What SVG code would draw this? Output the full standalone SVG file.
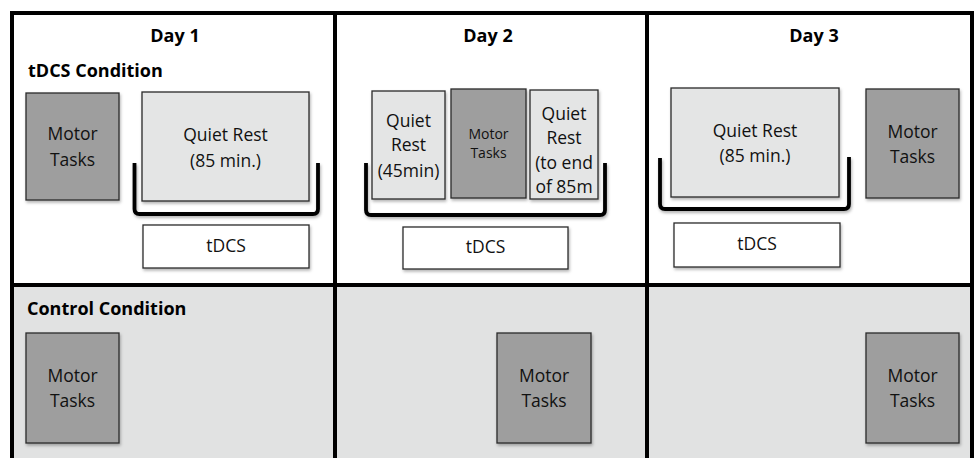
<svg xmlns="http://www.w3.org/2000/svg" width="975" height="458" viewBox="0 0 975 458">
<defs>
<filter id="sh" x="-10%" y="-10%" width="130%" height="130%">
<feDropShadow dx="1" dy="2" stdDeviation="1.5" flood-color="#000" flood-opacity="0.3"/>
</filter>
<style>
.frame{fill:none;stroke:#000;stroke-width:4}
.dark{fill:#9e9e9e;stroke:#2a2a2a;stroke-width:1.3;filter:url(#sh)}
.light{fill:#e4e5e5;stroke:#2a2a2a;stroke-width:1.3;filter:url(#sh)}
.white{fill:#fff;stroke:#2a2a2a;stroke-width:1.3;filter:url(#sh)}
.brk{fill:none;stroke:#000;stroke-width:3.8;stroke-linecap:butt;filter:url(#sh)}
text{font-family:"Open Sans","Liberation Sans",sans-serif;fill:#111;text-anchor:middle}
.t{font-size:17.5px}
.s{font-size:14px}
.h{font-size:18px;font-weight:bold;fill:#000}
.hl{font-size:18px;font-weight:bold;fill:#000;text-anchor:start}
</style>
</defs>
<g id="background">
<rect x="12" y="12" width="960" height="273" fill="#fff"/>
<rect x="12" y="285" width="960" height="173" fill="#e1e2e2"/>
</g>
<g id="grid">
<path class="frame" d="M12,458 V13 H972 V458"/>
<path class="frame" d="M335,12 V458 M647,12 V458 M12,285 H972"/>
</g>
<g id="labels">
<text class="h" x="175" y="42">Day 1</text>
<text class="h" x="488" y="42">Day 2</text>
<text class="h" x="814" y="42">Day 3</text>
<text class="hl" x="28" y="77">tDCS Condition</text>
<text class="hl" x="27" y="315">Control Condition</text>
</g>
<g id="connectors">
<path class="brk" d="M134.5,163 V209 Q134.5,214 139.5,214 H313 Q318,214 318,209 V163"/>
<path class="brk" d="M366,163 V210 Q366,215 371,215 H600 Q605,215 605,210 V163"/>
<path class="brk" d="M660,158 V204 Q660,209 665,209 H844 Q849,209 849,204 V157"/>
</g>
<g id="d1-motor">
<rect class="dark" x="26" y="93" width="93" height="107"/>
<text class="t" x="72.5" y="140">Motor</text>
<text class="t" x="72.5" y="166">Tasks</text>
</g>
<g id="d1-rest">
<rect class="light" x="142" y="92" width="167" height="109"/>
<text class="t" x="225.5" y="141">Quiet Rest</text>
<text class="t" x="225.5" y="167">(85 min.)</text>
</g>
<g id="d1-tdcs">
<rect class="white" x="143" y="225" width="166" height="43"/>
<text class="t" x="226" y="252">tDCS</text>
</g>
<g id="d2-rest1">
<rect class="light" x="372" y="91" width="73" height="108"/>
<text class="t" x="408.5" y="127">Quiet</text>
<text class="t" x="408.5" y="151">Rest</text>
<text class="t" x="408.5" y="177">(45min)</text>
</g>
<g id="d2-motor">
<rect class="dark" x="451" y="89" width="75" height="109"/>
<text class="s" x="488.5" y="139">Motor</text>
<text class="s" x="488.5" y="158">Tasks</text>
</g>
<g id="d2-rest2">
<rect class="light" x="530" y="90" width="68" height="109"/>
<text class="t" x="564" y="120">Quiet</text>
<text class="t" x="564" y="144">Rest</text>
<text class="t" x="564" y="169">(to end</text>
<text class="t" x="564" y="193">of 85m</text>
</g>
<g id="d2-tdcs">
<rect class="white" x="403" y="227" width="165" height="42"/>
<text class="t" x="485.5" y="253">tDCS</text>
</g>
<g id="d3-rest">
<rect class="light" x="671" y="88" width="168" height="109"/>
<text class="t" x="755" y="137">Quiet Rest</text>
<text class="t" x="755" y="162">(85 min.)</text>
</g>
<g id="d3-motor">
<rect class="dark" x="866" y="89" width="93" height="109"/>
<text class="t" x="912.5" y="138">Motor</text>
<text class="t" x="912.5" y="163">Tasks</text>
</g>
<g id="d3-tdcs">
<rect class="white" x="674" y="223" width="166" height="44"/>
<text class="t" x="757" y="250">tDCS</text>
</g>
<g id="c1-motor">
<rect class="dark" x="26" y="333" width="93" height="110"/>
<text class="t" x="72.5" y="382">Motor</text>
<text class="t" x="72.5" y="407">Tasks</text>
</g>
<g id="c2-motor">
<rect class="dark" x="497" y="333" width="94" height="110"/>
<text class="t" x="544" y="382">Motor</text>
<text class="t" x="544" y="407">Tasks</text>
</g>
<g id="c3-motor">
<rect class="dark" x="866" y="333" width="93" height="110"/>
<text class="t" x="912.5" y="382">Motor</text>
<text class="t" x="912.5" y="407">Tasks</text>
</g>
</svg>
